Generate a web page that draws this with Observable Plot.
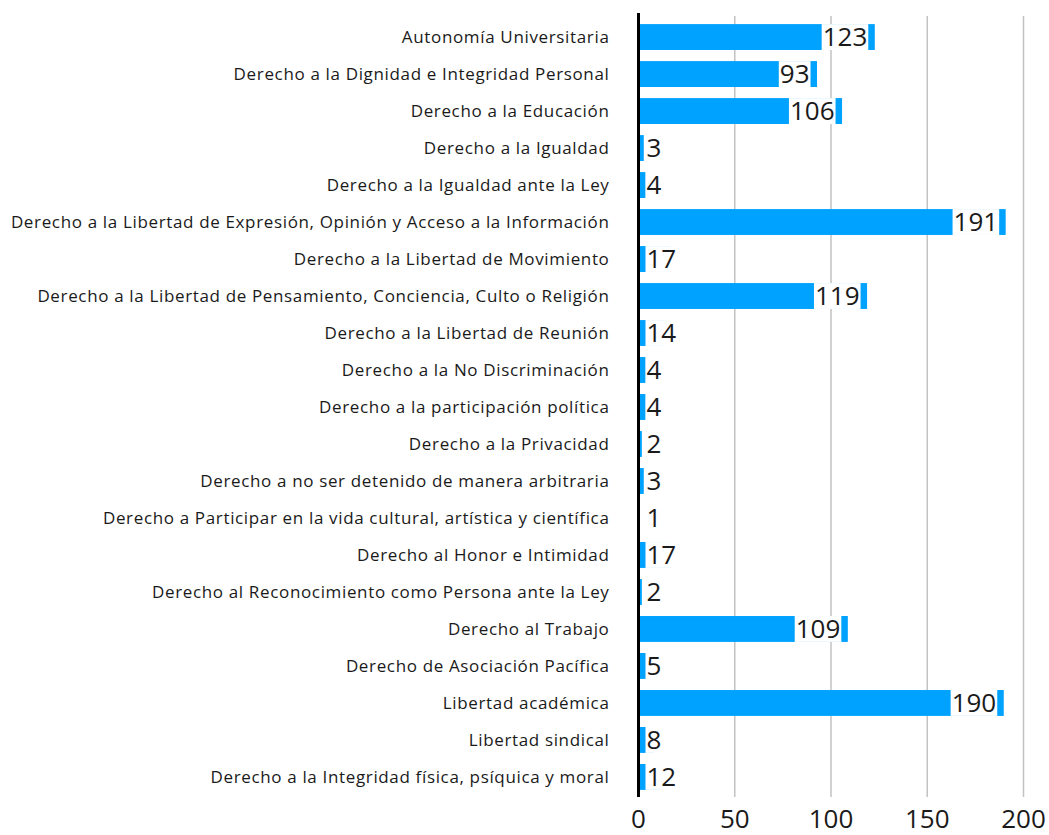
<!DOCTYPE html>
<html>
<head>
<meta charset="utf-8">
<script src="https://cdn.jsdelivr.net/npm/d3@7"></script>
<script src="https://cdn.jsdelivr.net/npm/@observablehq/plot@0.6"></script>
<style>
  html, body { margin: 0; padding: 0; background: #ffffff; }
  g[aria-label="y-axis tick label"] text { letter-spacing: 0.65px; }
</style>
</head>
<body>
<div id="chart"></div>
<script>
const categories = [
  "Autonomía Universitaria",
  "Derecho a la Dignidad e Integridad Personal",
  "Derecho a la Educación",
  "Derecho a la Igualdad",
  "Derecho a la Igualdad ante la Ley",
  "Derecho a la Libertad de Expresión, Opinión y Acceso a la Información",
  "Derecho a la Libertad de Movimiento",
  "Derecho a la Libertad de Pensamiento, Conciencia, Culto o Religión",
  "Derecho a la Libertad de Reunión",
  "Derecho a la No Discriminación",
  "Derecho a la participación política",
  "Derecho a la Privacidad",
  "Derecho a no ser detenido de manera arbitraria",
  "Derecho a Participar en la vida cultural, artística y científica",
  "Derecho al Honor e Intimidad",
  "Derecho al Reconocimiento como Persona ante la Ley",
  "Derecho al Trabajo",
  "Derecho de Asociación Pacífica",
  "Libertad académica",
  "Libertad sindical",
  "Derecho a la Integridad física, psíquica y moral"
];
const values = [123, 93, 106, 3, 4, 191, 17, 119, 14, 4, 4, 2, 3, 1, 17, 2, 109, 5, 190, 8, 12];
const xTicks = [0, 50, 100, 150, 200];
const gridTicks = [50, 100, 150, 200];

const data = categories.map((c, i) => ({category: c, value: values[i]}));
const insideMin = 25; // labels of bars at least this long sit inside the bar end

const barColor = "#00a2ff";
const textColor = "#1a1a1a";
const font = "Open Sans";

const chart = Plot.plot({
  width: 1049,
  height: 835,
  marginLeft: 638,
  marginRight: 26,
  marginTop: 13,
  marginBottom: 34,
  style: {fontFamily: font, color: textColor, background: "#ffffff"},
  x: {domain: [0, 200], axis: null},
  y: {domain: categories, paddingInner: 0.3, paddingOuter: 0.3, round: false, axis: null},
  marks: [
    Plot.ruleX(gridTicks, {stroke: "#c2c2c2", strokeWidth: 1.5, insetTop: 3, insetBottom: 4}),
    Plot.barX(data, {x: "value", y: "category", fill: barColor}),
    Plot.ruleX([0], {stroke: "#000000", strokeWidth: 3, insetBottom: 4}),
    Plot.axisX({ticks: xTicks, tickSize: 0, tickPadding: 8, fontSize: 26, label: null, fill: textColor}),
    Plot.axisY({tickSize: 0, tickPadding: 29, fontSize: 17, label: null, fill: textColor}),
    Plot.text(data.filter(d => d.value >= insideMin), {
      x: "value", y: "category", text: d => String(d.value),
      textAnchor: "end", dx: -8, fontSize: 26, fill: textColor
    }),
    Plot.text(data.filter(d => d.value < insideMin), {
      x: () => 0, y: "category", text: d => String(d.value),
      textAnchor: "start", dx: 8, fontSize: 26, fill: textColor
    })
  ]
});

document.getElementById("chart").appendChild(chart);

// white label backgrounds (as in the reference) sized from rendered text and the y band scale
const ys = chart.scale("y");
const bw = ys.bandwidth;
const svgRect = chart.getBoundingClientRect();
chart.querySelectorAll('g[aria-label="text"]').forEach(g => {
  g.querySelectorAll("text").forEach(t => {
    const r = t.getBoundingClientRect();
    const cy = r.y + r.height / 2 - svgRect.y;
    let best = null, bd = Infinity;
    for (const c of categories) {
      const d = Math.abs(ys.apply(c) + bw / 2 - cy);
      if (d < bd) { bd = d; best = c; }
    }
    const rect = document.createElementNS("http://www.w3.org/2000/svg", "rect");
    rect.setAttribute("x", r.x - svgRect.x - 1);
    rect.setAttribute("width", r.width + 2);
    rect.setAttribute("y", ys.apply(best));
    rect.setAttribute("height", bw);
    rect.setAttribute("fill", "#ffffff");
    g.parentNode.insertBefore(rect, g);
  });
});
</script>
</body>
</html>
